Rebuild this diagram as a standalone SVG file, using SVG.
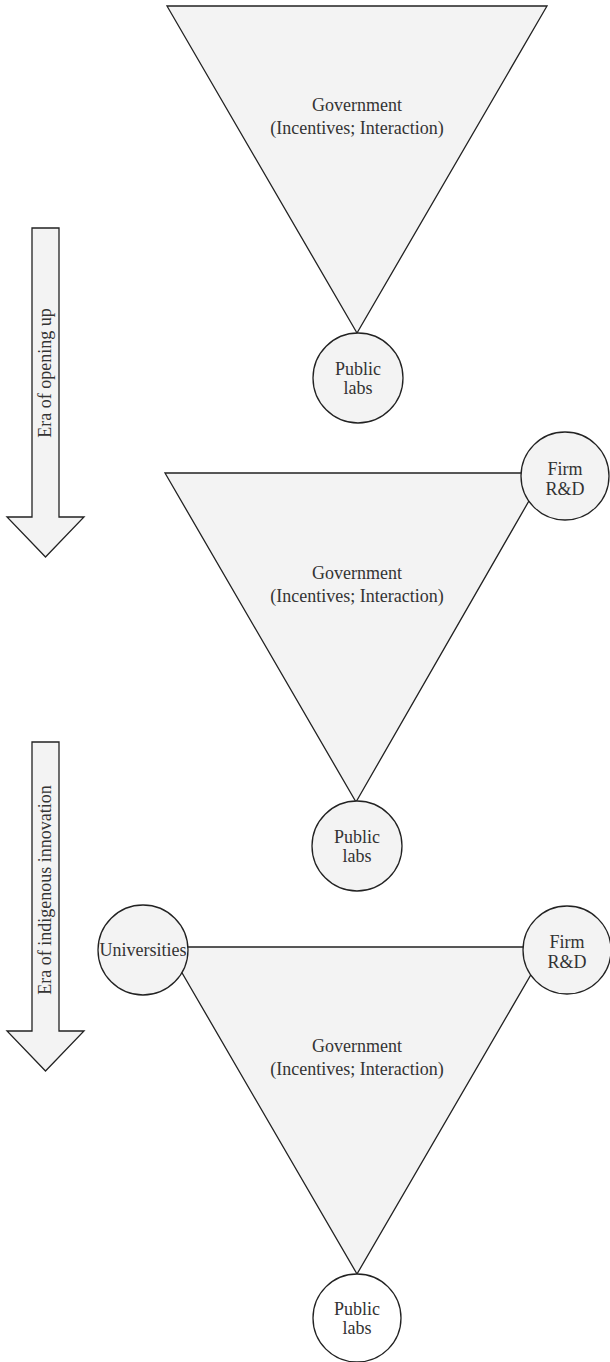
<svg xmlns="http://www.w3.org/2000/svg" width="610" height="1362" viewBox="0 0 610 1362">
<style>
.shape{fill:#f3f3f3;stroke:#222;stroke-width:1.3}
.white{fill:#ffffff;stroke:#222;stroke-width:1.3}
.t{font-family:"Liberation Serif","DejaVu Serif",serif;font-size:18px;fill:#333;text-anchor:middle}
</style>
<rect width="610" height="1362" fill="#ffffff"/>
<g id="arrow-opening">
<polygon class="shape" points="32,228 59,228 59,517 84,517 45.5,557 7,517 32,517"/>
<text class="t" transform="translate(51,373) rotate(-90)">Era of opening up</text>
</g>
<g id="arrow-indigenous">
<polygon class="shape" points="32,742 59,742 59,1031 84,1031 45.5,1071 7,1031 32,1031"/>
<text class="t" transform="translate(51,890) rotate(-90)">Era of indigenous innovation</text>
</g>
<g id="gov1">
<polygon class="shape" points="167,6 547,6 357,333"/>
<text class="t" x="357" y="111">Government</text>
<text class="t" x="357" y="134">(Incentives; Interaction)</text>
</g>
<g id="labs1">
<circle class="shape" cx="358" cy="378" r="45"/>
<text class="t" x="358" y="375">Public</text>
<text class="t" x="358" y="394">labs</text>
</g>
<g id="gov2">
<polygon class="shape" points="165,473 545,473 356,802"/>
<text class="t" x="357" y="579">Government</text>
<text class="t" x="357" y="602">(Incentives; Interaction)</text>
</g>
<g id="firm2">
<circle class="shape" cx="565" cy="476" r="44"/>
<text class="t" x="565" y="475">Firm</text>
<text class="t" x="565" y="495">R&amp;D</text>
</g>
<g id="labs2">
<circle class="shape" cx="357" cy="846" r="45"/>
<text class="t" x="357" y="843">Public</text>
<text class="t" x="357" y="862">labs</text>
</g>
<g id="gov3">
<polygon class="shape" points="167,947 547,947 357,1274"/>
<text class="t" x="357" y="1052">Government</text>
<text class="t" x="357" y="1075">(Incentives; Interaction)</text>
</g>
<g id="universities">
<circle class="shape" cx="143" cy="950" r="45"/>
<text class="t" x="143" y="956">Universities</text>
</g>
<g id="firm3">
<circle class="shape" cx="567" cy="950" r="44"/>
<text class="t" x="567" y="948">Firm</text>
<text class="t" x="567" y="968">R&amp;D</text>
</g>
<g id="labs3">
<circle class="white" cx="357" cy="1318" r="44"/>
<text class="t" x="357" y="1315">Public</text>
<text class="t" x="357" y="1334">labs</text>
</g>
<g id="connectors"></g>
</svg>
